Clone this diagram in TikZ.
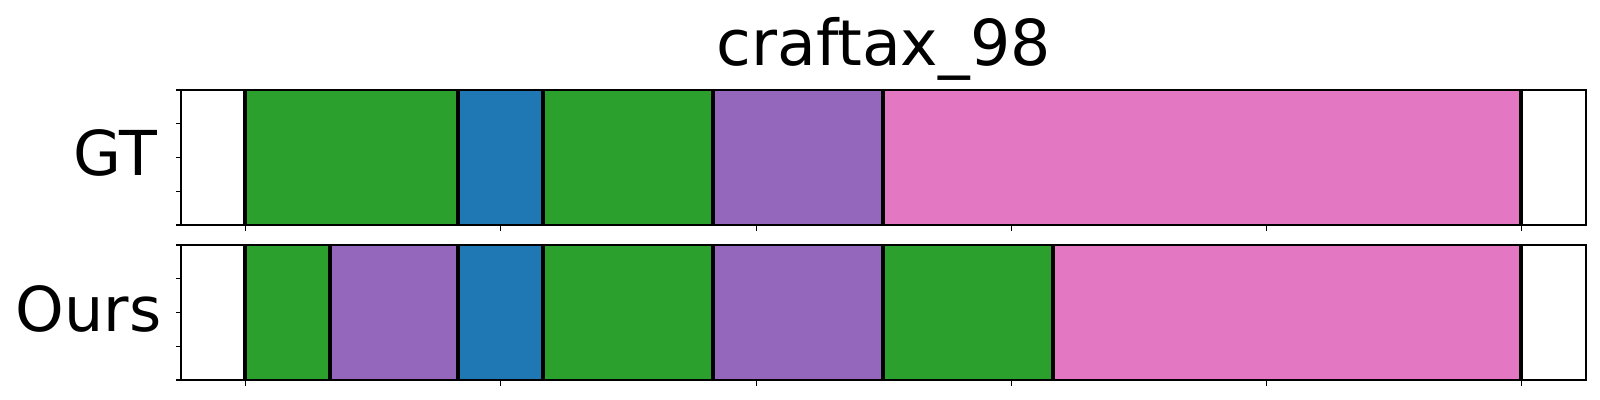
\documentclass[tikz,border=0pt]{standalone}
\usepackage{fontspec}
\setmainfont{DejaVu Sans}
\definecolor{tabgreen}{HTML}{2CA02C}
\definecolor{tabblue}{HTML}{1F77B4}
\definecolor{tabpurple}{HTML}{9467BD}
\definecolor{tabpink}{HTML}{E377C2}
\begin{document}
\begin{tikzpicture}[x=0.01cm,y=-0.01cm,
  cut/.style={line width=1.2pt,black},
  frame/.style={line width=0.55pt,black},
  tick/.style={line width=0.3pt,black},
  rowlabel/.style={font=\fontsize{17.6}{21}\selectfont,anchor=base east,inner sep=0pt}]
\useasboundingbox (0,0) rectangle (1600,400);
\node[font=\fontsize{18}{22}\selectfont,anchor=base,inner sep=0pt] (title) at (883.5,65) {craftax\_98};
% GT row
\foreach \a/\b/\c in {245/457.7/tabgreen,457.7/542.7/tabblue,542.7/712.7/tabgreen,712.7/882.7/tabpurple,882.7/1520.7/tabpink}
  \fill[\c] (\a,90) rectangle (\b,225);
\foreach \x in {245,457.7,542.7,712.7,882.7,1520.7}
  \draw[cut] (\x,90) -- (\x,225);
% Ours row
\foreach \a/\b/\c in {245/330/tabgreen,330/457.7/tabpurple,457.7/542.7/tabblue,542.7/712.7/tabgreen,712.7/882.7/tabpurple,882.7/1052.7/tabgreen,1052.7/1520.7/tabpink}
  \fill[\c] (\a,245) rectangle (\b,380);
\foreach \x in {245,330,457.7,542.7,712.7,882.7,1052.7,1520.7}
  \draw[cut] (\x,245) -- (\x,380);
% frames and ticks
\foreach \y in {90,245} {
  \draw[frame] (181.3,\y) rectangle (1585.7,\y+135);
  \foreach \t in {0,...,4}
    \draw[tick] (181.3,\y+33.75*\t) -- ++(-5.5,0);
  \foreach \t in {0,...,5}
    \draw[tick] (245.7+255.2*\t,\y+135) -- ++(0,5.5);
}
\node[rowlabel] (gt) at (157.5,175) {GT};
\node[rowlabel] (ours) at (162,331) {Ours};
\end{tikzpicture}
\end{document}
